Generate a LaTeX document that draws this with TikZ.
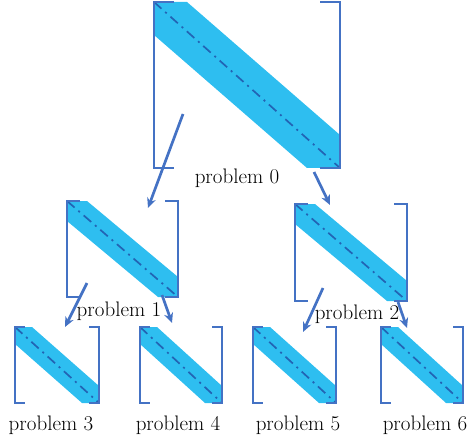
\documentclass[tikz,border=0pt]{standalone}
\usepackage{tikz}
\usetikzlibrary{calc,arrows.meta,positioning}

\definecolor{bracketblue}{RGB}{68,114,196}
\definecolor{bandcyan}{RGB}{46,190,240}
\definecolor{diagblue}{RGB}{34,100,180}

\tikzset{
  matbox/.style={draw=none, inner sep=0pt, outer sep=0pt, anchor=north west},
  bracket/.style={draw=bracketblue, line width=2.7pt, line join=miter},
  diagline/.style={draw=diagblue, line width=1.7pt, dash pattern=on 10pt off 5pt on 2pt off 5pt},
  branch/.style={draw=bracketblue, line width=2.7pt, -{Stealth[length=10pt,width=9pt]}},
  lbl/.style={font=\fontsize{21}{24}\selectfont, inner sep=0pt}
}

% #1 name, #2 x, #3 y, #4 width, #5 height, #6 band, #7 tick
\newcommand{\bandmat}[7]{%
  \node[matbox, minimum width=#4pt, minimum height=#5pt] (#1) at (#2,#3) {};
  \fill[bandcyan] (#1.north west) -- ([shift={(#6,0)}]#1.north west)
    -- ([shift={(0,-#6)}]#1.south east) -- (#1.south east)
    -- ([shift={(-#6,0)}]#1.south east) -- ([shift={(0,#6)}]#1.north west) -- cycle;
  \draw[diagline] (#1.north west) -- (#1.south east);
  \draw[bracket] ([shift={(#7,0)}]#1.north west) -- (#1.north west)
    -- (#1.south west) -- ([shift={(#7,0)}]#1.south west);
  \draw[bracket] ([shift={(-#7,0)}]#1.north east) -- (#1.north east)
    -- (#1.south east) -- ([shift={(-#7,0)}]#1.south east);
}

\begin{document}
\begin{tikzpicture}[x=1pt, y=-1pt]
    \useasboundingbox (0,0) rectangle (470,438);

    % Matrices of each subproblem
    \bandmat{m0}{154}{2}{186}{166}{33}{20}
    \bandmat{m1}{67}{201}{111}{96}{20}{13}
    \bandmat{m2}{295}{204}{112}{97}{20}{13}
    \bandmat{m3}{15}{327}{84}{76}{17}{10}
    \bandmat{m4}{140}{327}{82}{76}{17}{10}
    \bandmat{m5}{253}{327}{83}{76}{17}{10}
    \bandmat{m6}{381}{327}{82}{76}{17}{10}

    % Labels
    \node[lbl] (l0) at (237,178) {problem 0};
    \node[lbl] (l1) at (119,311) {problem 1};
    \node[lbl] (l2) at (357,314) {problem 2};
    \node[lbl] (l3) at (51,425) {problem 3};
    \node[lbl] (l4) at (178,425) {problem 4};
    \node[lbl] (l5) at (298,425) {problem 5};
    \node[lbl] (l6) at (425,425) {problem 6};

    % Splitting arrows
    \draw[branch] ([shift={(29,112)}]m0.north west) -- ([shift={(81,7)}]m1.north west);
    \draw[branch] ([shift={(160,170)}]m0.north west) -- ([shift={(35,1)}]m2.north west);
    \draw[branch] ([shift={(20,82)}]m1.north west) -- ([shift={(50,0)}]m3.north west);
    \draw[branch] ([shift={(95,94)}]m1.north west) -- ([shift={(32,-4)}]m4.north west);
    \draw[branch] ([shift={(28,84)}]m2.north west) -- ([shift={(50,5)}]m5.north west);
    \draw[branch] ([shift={(103,98)}]m2.north west) -- ([shift={(26,1)}]m6.north west);
\end{tikzpicture}
\end{document}
